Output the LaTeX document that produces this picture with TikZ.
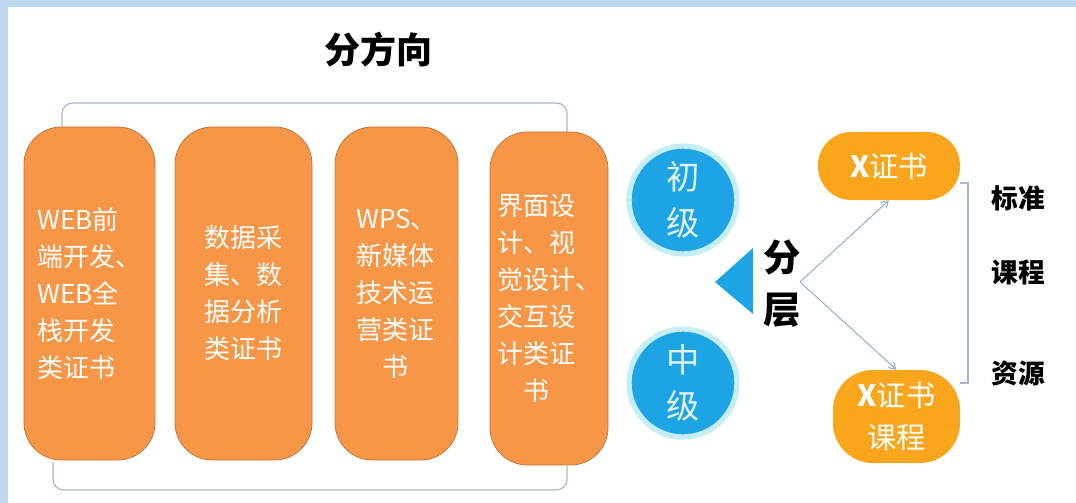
\documentclass[tikz,border=0pt]{standalone}
\usepackage{fontspec}
\setmainfont{Noto Sans CJK SC}
\usetikzlibrary{arrows.meta}
\definecolor{framebg}{HTML}{BDD7EE}
\definecolor{boxor}{HTML}{F79646}
\definecolor{boxline}{HTML}{C07840}
\definecolor{pillor}{HTML}{F9A61C}
\definecolor{circblue}{HTML}{1CA4E4}
\definecolor{circring}{HTML}{C5EDFA}
\definecolor{brk}{HTML}{A8B8CC}
\definecolor{arrowc}{HTML}{8EA9D0}
\definecolor{circtext}{HTML}{E2F3FB}
\tikzset{
  dirbox/.style={draw=boxline, line width=0.6pt, fill=boxor, rounded corners=28pt,
    minimum height=249.75pt, text=white, align=left, inner sep=0pt,
    font=\fontsize{19.5pt}{27.75pt}\selectfont},
  lvl/.style={circle, fill=circblue, draw=circring, line width=4pt, minimum size=81pt,
    text=circtext, align=center, inner sep=0pt, font=\fontsize{25pt}{35pt}\selectfont},
  pill/.style={fill=pillor, text=white, align=center, inner sep=0pt,
    font=\fontsize{22pt}{31pt}\selectfont},
  brkline/.style={draw=brk, line width=0.9pt, rounded corners=8pt},
  conn/.style={draw=arrowc, line width=0.7pt, -{Straight Barb[length=5pt,width=6pt]}},
  lab/.style={font=\bfseries\fontsize{20pt}{24pt}\selectfont, text=black, inner sep=0pt}
}
\begin{document}
\begin{tikzpicture}[x=0.75pt,y=-0.75pt]
\useasboundingbox (0,0) rectangle (1076,503);
\fill[white] (0,0) rectangle (1076,503);
\fill[framebg] (0,0) rectangle (1076,7);
\fill[framebg] (0,0) rectangle (8,503);

% title
\node[lab, font=\bfseries\fontsize{27pt}{30pt}\selectfont] (title) at (378,50) {分方向};

% brackets
\coordinate (tl) at (62,132);
\coordinate (tr) at (567,132);
\coordinate (bl) at (53,462);
\coordinate (br) at (567,466);
\draw[brkline] (tl) -- (62,103) -- (567,103) -- (tr);
\draw[brkline] (bl) -- (53,490) -- (567,490) -- (br);

% direction boxes
\node[dirbox, minimum width=98.25pt] (b1) at (89.5,293.5)
  {WEB前\\端开发、\\WEB全\\栈开发\\类证书};
\node[dirbox, minimum width=102.75pt] (b2) at (243.5,293.5)
  {数据采\\集、数\\据分析\\类证书};
\node[dirbox, minimum width=92.25pt] (b3) at (396.5,293.5)
  {WPS、\\新媒体\\技术运\\营类证\\\makebox[3em]{书}};
\node[dirbox, minimum width=88.5pt] (b4) at (549,298.5)
  {界面设\\计、视\\觉设计、\\交互设\\计类证\\\makebox[3em]{书}};

% levels
\node[lvl] (c1) at (683,200) {初\\级};
\node[lvl] (c2) at (683,383) {中\\级};

% triangle
\fill[circblue] (715,282) -- (753,248) -- (753,314) -- cycle;

% layering
\node[lab, font=\bfseries\fontsize{28pt}{39pt}\selectfont, align=center] (fc) at (782,284) {分\\层};
\coordinate (fork) at (800,282);

% pills
\node[pill, minimum width=106.5pt, minimum height=51pt, rounded corners=25pt] (p1) at (889,166)
  {\textbf{X}证书};
\node[pill, minimum width=95.25pt, minimum height=69.75pt, rounded corners=30pt] (p2) at (896.5,416.5)
  {\textbf{X}证书\\课程};

\draw[conn] (fork) -- (p1.south);
\draw[conn] (fork) -- (p2.north);

% right bracket
\coordinate (rb1) at (960,183);
\coordinate (rb2) at (960,383);
\draw[draw=brk, line width=0.9pt] (rb1) -- (968,183) -- (968,383) -- (rb2);

% labels
\node[lab] (l1) at (1018,198) {标准};
\node[lab] (l2) at (1018,272) {课程};
\node[lab] (l3) at (1018,373) {资源};
\end{tikzpicture}
\end{document}
